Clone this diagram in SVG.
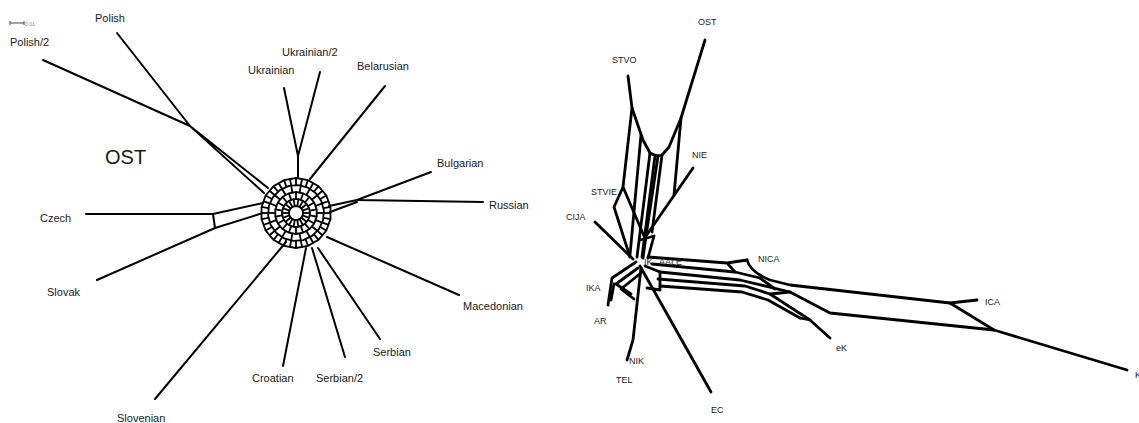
<svg xmlns="http://www.w3.org/2000/svg" xmlns:xlink="http://www.w3.org/1999/xlink" width="1139" height="423" viewBox="0 0 1139 423">
<style>
text{font-family:"Liberation Sans",Arial,sans-serif;fill:#1a1a1a}
.l{font-size:11px}
.r{font-size:9px}
.e{fill:none;stroke:#000;stroke-width:2;stroke-linejoin:round;stroke-linecap:round}
.m{fill:none;stroke:#000;stroke-width:1.8}
.t{fill:none;stroke:#000;stroke-width:2.8;stroke-linejoin:round;stroke-linecap:round}
</style>
<defs>
<polygon id="p18" fill="none" vector-effect="non-scaling-stroke" points="0,-1 0.342,-0.94 0.643,-0.766 0.866,-0.5 0.985,-0.174 0.985,0.174 0.866,0.5 0.643,0.766 0.342,0.94 0,1 -0.342,0.94 -0.643,0.766 -0.866,0.5 -0.985,0.174 -0.985,-0.174 -0.866,-0.5 -0.643,-0.766 -0.342,-0.94"/>
<g id="sp">
<line x1="296" y1="178" x2="296" y2="185"/>
<line x1="296" y1="192" x2="296" y2="199"/>
<g transform="rotate(10 296 213)">
<line x1="296" y1="178" x2="296" y2="185"/>
<line x1="296" y1="185" x2="296" y2="192"/>
<line x1="296" y1="199" x2="296" y2="206"/>
</g>
</g>
</defs>
<rect width="1139" height="423" fill="#fff"/>
<g id="scale">
<path d="M10,23H24M10,21V25M24,21V25" stroke="#444" stroke-width="1" fill="none"/>
<text x="25" y="26" style="font-size:5px;fill:#888">0.01</text>
</g>
<g id="connectors">
<g class="e">
<path d="M117,33L190,126L43,60"/>
<path d="M190,126L268,188M190,126L264,193"/>
<path d="M284,88L298,156L320,72M298,156L298,178"/>
<path d="M385,86L310,179"/>
<path d="M431,172L357,200L483,202"/>
<path d="M357,200L329,206M357,202L330,212"/>
<path d="M86,214L213,214L215,228L97,280"/>
<path d="M213,214L263,203M215,228L263,213"/>
<path d="M459,295L327,237"/>
<path d="M380,339L318,248"/>
<path d="M345,357L312,248"/>
<path d="M283,366L306,248"/>
<path d="M155,399L286,242"/>
</g>
<g class="m">
<use href="#p18" transform="translate(296 213) scale(35)"/>
<use href="#p18" transform="translate(296 213) rotate(5) scale(28)"/>
<use href="#p18" transform="translate(296 213) scale(21)"/>
<use href="#p18" transform="translate(296 213) rotate(10) scale(14)"/>
<use href="#p18" transform="translate(296 213) scale(7)"/>
<use href="#sp"/>
<use href="#sp" transform="rotate(20 296 213)"/>
<use href="#sp" transform="rotate(40 296 213)"/>
<use href="#sp" transform="rotate(60 296 213)"/>
<use href="#sp" transform="rotate(80 296 213)"/>
<use href="#sp" transform="rotate(100 296 213)"/>
<use href="#sp" transform="rotate(120 296 213)"/>
<use href="#sp" transform="rotate(140 296 213)"/>
<use href="#sp" transform="rotate(160 296 213)"/>
<use href="#sp" transform="rotate(180 296 213)"/>
<use href="#sp" transform="rotate(200 296 213)"/>
<use href="#sp" transform="rotate(220 296 213)"/>
<use href="#sp" transform="rotate(240 296 213)"/>
<use href="#sp" transform="rotate(260 296 213)"/>
<use href="#sp" transform="rotate(280 296 213)"/>
<use href="#sp" transform="rotate(300 296 213)"/>
<use href="#sp" transform="rotate(320 296 213)"/>
<use href="#sp" transform="rotate(340 296 213)"/>
</g>
<g class="t">
<path d="M628,76L632,108L643,140L650,153Q656,157 662,155L669,147L681,118L705,40"/>
<path d="M632,108L623,187L614,207L630,257"/>
<path d="M623,187L644,236"/>
<path d="M641,135L630,255"/>
<path d="M650,153L637,257"/>
<path d="M655,156L642,257"/>
<path d="M658,156L646,236"/>
<path d="M662,155L652,232"/>
<path d="M681,118L674,195"/>
<path d="M693,168L646,236L643,258"/>
<path d="M640,240L654,236L648,258"/>
<path d="M595,222L633,259"/>
<path d="M636,262L612,278L608,305"/>
<path d="M638,268L616,284L631,294"/>
<path d="M641,273L621,289L634,299"/>
<path d="M614,284L611,300"/>
<path d="M641,268L633,340L627,360"/>
<path d="M640,266L711,392"/>
<path d="M645,266L660,272L660,290L647,288"/>
<path d="M648,257L727,263L747,260"/>
<path d="M747,260Q750,272 770,280L790,285L950,303L977,300"/>
<path d="M652,264L735,272L760,278"/>
<path d="M728,264L735,272"/>
<path d="M660,272L740,280L790,292L830,313L994,330L1127,370"/>
<path d="M950,303L994,330"/>
<path d="M658,279L745,286L770,294L810,320L830,338"/>
<path d="M660,286L742,292L768,300L800,318"/>
<path d="M760,278L775,289M790,292L770,294M800,318L810,320"/>
</g>
</g>
<g id="n-polish"><text class="l" x="95" y="22">Polish</text></g>
<g id="n-polish2"><text class="l" x="10" y="46">Polish/2</text></g>
<g id="n-ukrainian2"><text class="l" x="282" y="56">Ukrainian/2</text></g>
<g id="n-ukrainian"><text class="l" x="248" y="74">Ukrainian</text></g>
<g id="n-belarusian"><text class="l" x="357" y="70">Belarusian</text></g>
<g id="n-ost-left"><text x="105" y="164" style="font-size:20px">OST</text></g>
<g id="n-bulgarian"><text class="l" x="437" y="167">Bulgarian</text></g>
<g id="n-russian"><text class="l" x="489" y="209">Russian</text></g>
<g id="n-czech"><text class="l" x="40" y="222">Czech</text></g>
<g id="n-slovak"><text class="l" x="47" y="296">Slovak</text></g>
<g id="n-macedonian"><text class="l" x="463" y="310">Macedonian</text></g>
<g id="n-serbian"><text class="l" x="373" y="356">Serbian</text></g>
<g id="n-serbian2"><text class="l" x="316" y="382">Serbian/2</text></g>
<g id="n-croatian"><text class="l" x="252" y="382">Croatian</text></g>
<g id="n-slovenian"><text class="l" x="117" y="422">Slovenian</text></g>
<g id="n-ost-right"><text class="r" x="698" y="25">OST</text></g>
<g id="n-stvo"><text class="r" x="612" y="63">STVO</text></g>
<g id="n-nie"><text class="r" x="692" y="158">NIE</text></g>
<g id="n-stvie"><text class="r" x="591" y="195">STVIE</text></g>
<g id="n-cija"><text class="r" x="566" y="220">CIJA</text></g>
<g id="n-nica"><text class="r" x="758" y="262">NICA</text></g>
<g id="n-ik"><text class="r" x="644" y="265">IK</text></g>
<g id="n-aale"><text class="r" x="659" y="265">AALE</text></g>
<g id="n-ika"><text class="r" x="586" y="291">IKA</text></g>
<g id="n-ar"><text class="r" x="594" y="324">AR</text></g>
<g id="n-nik"><text class="r" x="629" y="364">NIK</text></g>
<g id="n-tel"><text class="r" x="616" y="383">TEL</text></g>
<g id="n-ec"><text class="r" x="711" y="413">EC</text></g>
<g id="n-ica"><text class="r" x="985" y="305">ICA</text></g>
<g id="n-ek"><text class="r" x="836" y="351">eK</text></g>
<g id="n-k"><text class="r" x="1135" y="378">K</text></g>
</svg>
